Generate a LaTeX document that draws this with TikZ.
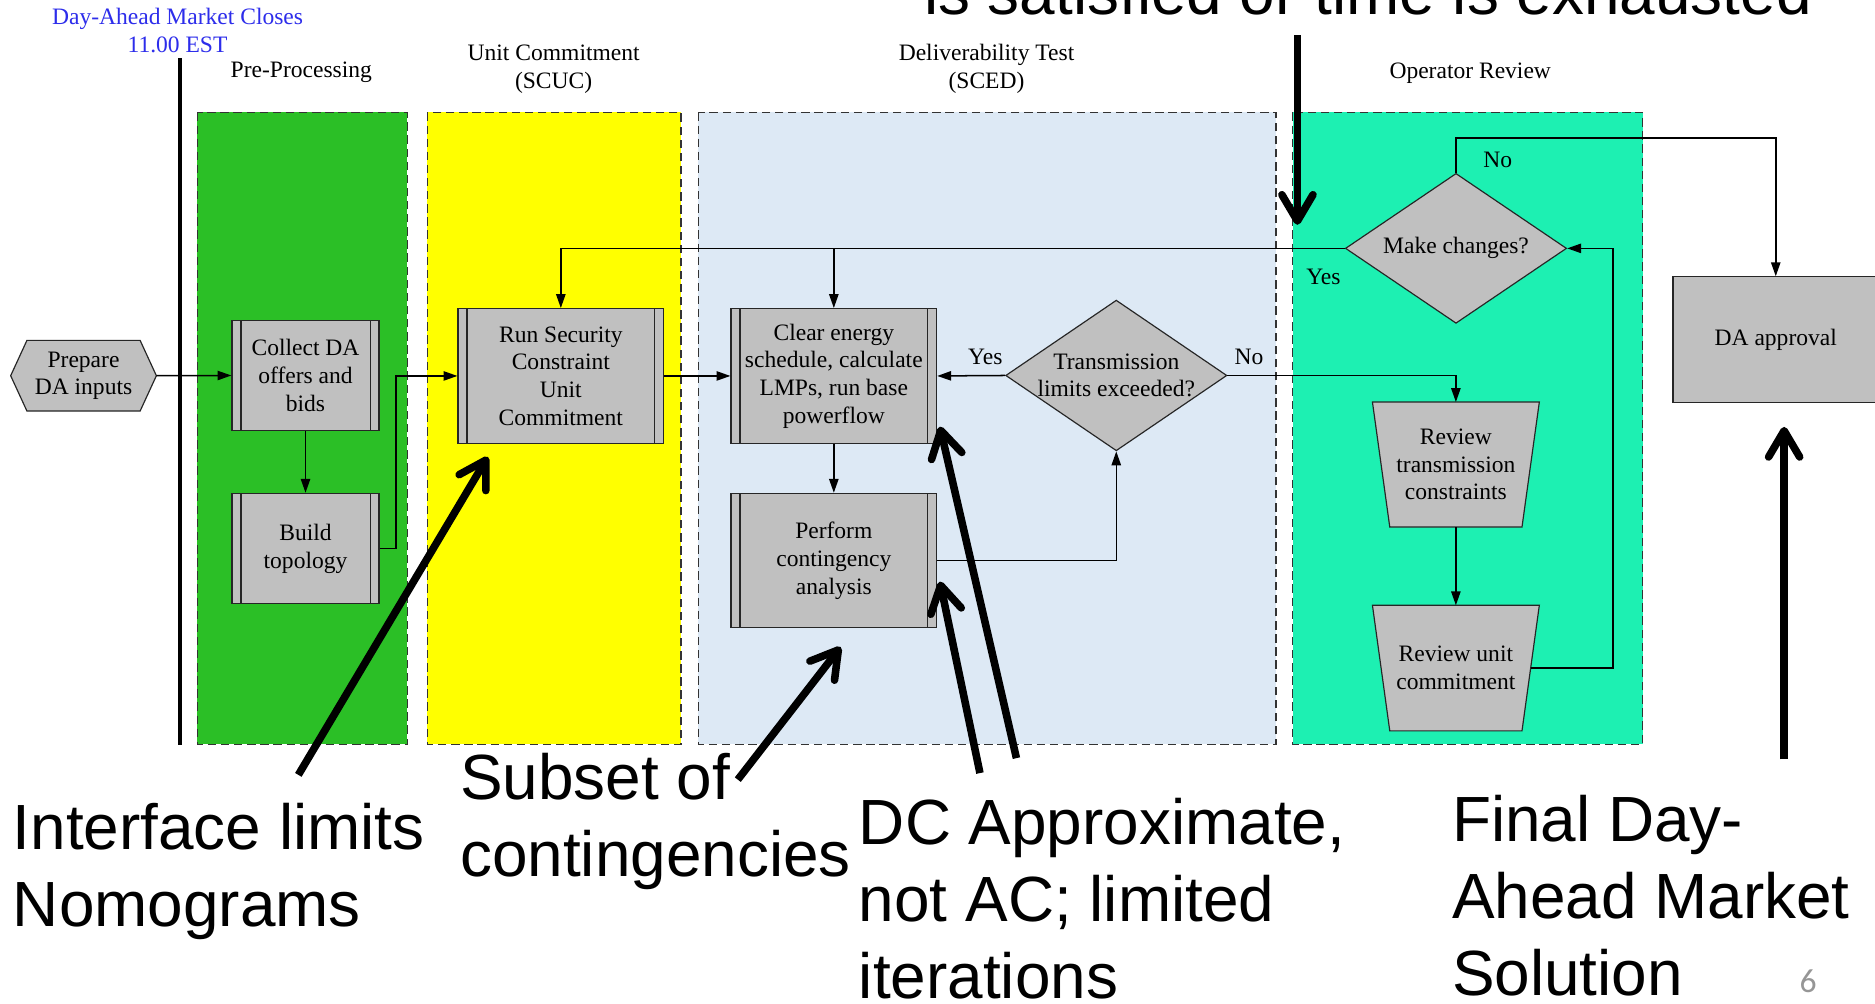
\documentclass[tikz,border=0pt]{standalone}
\usepackage{fontspec}
\setmainfont{Liberation Serif}
\newfontfamily\annotfont{Liberation Sans}
\newfontfamily\numfont{Carlito}
\usetikzlibrary{arrows.meta,shapes.geometric,calc}
\newcommand\pxu{0.25mm}
\definecolor{lanegreen}{RGB}{43,191,38}
\definecolor{laneyellow}{RGB}{255,255,0}
\definecolor{laneblue}{RGB}{221,233,245}
\definecolor{laneteal}{RGB}{29,240,178}
\definecolor{boxgrey}{RGB}{192,192,192}
\definecolor{closeblue}{RGB}{45,45,235}
\definecolor{pagegrey}{RGB}{150,150,150}
\pgfdeclarelayer{lanelayer}
\pgfdeclarelayer{shapelayer}
\pgfsetlayers{lanelayer,shapelayer,main}
\tikzset{
 diag/.style={font=\fontsize{14}{16.5}\selectfont},
 lane/.style={draw=black!80, line width=0.7pt, dash pattern=on 5pt off 2.8pt},
 procbox/.style={diag, draw=black!85, line width=0.7pt, fill=boxgrey, align=center, inner sep=0pt,
   path picture={\draw[line width=0.7pt, black!85]
     ([xshift=7.5*\pxu]path picture bounding box.north west) -- ([xshift=7.5*\pxu]path picture bounding box.south west)
     ([xshift=-7.5*\pxu]path picture bounding box.north east) -- ([xshift=-7.5*\pxu]path picture bounding box.south east);}},
 decision/.style={diamond, draw=black!85, line width=0.7pt, fill=boxgrey, inner sep=0pt, minimum width=185*\pxu, minimum height=126*\pxu},
 plainbox/.style={diag, rectangle, draw=black!85, line width=0.7pt, fill=boxgrey, inner sep=0pt, align=center},
 hidden/.style={diag, align=center, inner sep=0pt},
 shapeline/.style={draw=black!85, line width=0.7pt, fill=boxgrey},
 conn/.style={line width=0.9pt, -{Triangle[length=2.9mm,width=1.95mm]}},
 callout/.style={line width=4.5pt, -{Straight Barb[length=5.5mm,width=6.5mm,round]}},
 bigtext/.style={font=\annotfont\fontsize{38}{45.8}\selectfont, align=left, inner sep=0pt, anchor=base west},
 lbl/.style={diag, inner sep=0pt, anchor=base, align=center},
}
\begin{document}
\begin{tikzpicture}[x=0.25mm, y=-0.25mm]
\useasboundingbox (0,0) rectangle (1568,839);
\clip (0,0) rectangle (1568,839);

% lanes
\begin{pgfonlayer}{lanelayer}
\fill[white] (0,0) rectangle (1568,839);
\draw[lane, fill=lanegreen] (165,94) rectangle (340.5,622.5);
\draw[lane, fill=laneyellow] (357.5,94) rectangle (569.5,622.5);
\draw[lane, fill=laneblue] (584,94) rectangle (1067,622.5);
\draw[lane, fill=laneteal] (1081,94) rectangle (1373.7,622.5);
\end{pgfonlayer}

% titles (base = baseline of last line)
\node[lbl, text=closeblue] (closes) at (148.5,44) {Day-Ahead Market Closes\\11.00 EST};
\node[lbl] (tpre) at (252,64.7) {Pre-Processing};
\node[lbl] (tuc) at (463,74) {Unit Commitment\\(SCUC)};
\node[lbl] (tdt) at (825,74) {Deliverability Test\\(SCED)};
\node[lbl] (tor) at (1229.5,65.5) {Operator Review};

\draw[line width=2.7pt] (150.5,48.8) -- (150.5,623);

% nodes
\node[hidden, minimum width=121.3*\pxu, minimum height=58.5*\pxu] (prep) at (69.85,314.2) {Prepare\\DA inputs};
\node[procbox, minimum width=123*\pxu, minimum height=92*\pxu] (collect) at (255.5,314) {Collect DA\\offers and\\bids};
\node[procbox, minimum width=123*\pxu, minimum height=92.4*\pxu] (build) at (255.5,458.8) {Build\\topology};
\node[procbox, minimum width=172*\pxu, minimum height=112.6*\pxu] (scuc) at (469,314.4) {Run Security\\Constraint\\Unit\\Commitment};
\node[procbox, minimum width=172*\pxu, minimum height=112.6*\pxu] (clear) at (697.3,314.4) {Clear energy\\schedule, calculate\\LMPs, run base\\powerflow};
\node[procbox, minimum width=172*\pxu, minimum height=112.3*\pxu] (perform) at (697.3,468.75) {Perform\\contingency\\analysis};
\node[decision, label={[diag,align=center]center:Transmission\\limits exceeded?}] (trans) at (933.5,314) {};
\node[decision, minimum height=125.4*\pxu, label={[diag]center:Make changes?}] (make) at (1217.6,207.7) {};
\node[hidden, minimum width=124.5*\pxu, minimum height=104*\pxu] (review1) at (1217.5,388.5) {Review\\transmission\\constraints};
\node[hidden, minimum width=124.5*\pxu, minimum height=104.5*\pxu] (review2) at (1217.5,558.7) {Review unit\\commitment};
\node[plainbox, minimum width=172*\pxu, minimum height=105*\pxu] (approve) at (1485,284) {DA approval};

\begin{pgfonlayer}{shapelayer}
\draw[shapeline] (prep.west) -- ([xshift=13.6*\pxu]prep.north west) -- ([xshift=-13.6*\pxu]prep.north east) -- (prep.east) -- ([xshift=-13.6*\pxu]prep.south east) -- ([xshift=13.6*\pxu]prep.south west) -- cycle;
\draw[shapeline] ([xshift=-7.25*\pxu]review1.north west) -- ([xshift=7.25*\pxu]review1.north east) -- ([xshift=-7.25*\pxu]review1.south east) -- ([xshift=7.25*\pxu]review1.south west) -- cycle;
\draw[shapeline] ([xshift=-7.25*\pxu]review2.north west) -- ([xshift=7.25*\pxu]review2.north east) -- ([xshift=-7.25*\pxu]review2.south east) -- ([xshift=7.25*\pxu]review2.south west) -- cycle;
\end{pgfonlayer}

% connectors
\draw[conn] (prep.east) -- (collect.west);
\draw[conn] (collect.south) -- (build.north);
\draw[conn] (build.east) -- ++(13.5,0) |- (scuc.west);
\draw[conn] (scuc.east) -- (clear.west);
\draw[conn] (clear.south) -- (perform.north);
\draw[conn] (perform.east) -| (trans.south);
\draw[conn] (trans.west) -- (clear.east);
\draw[conn] (trans.east) -| (review1.north);
\draw[conn] (review1.south) -- (review2.north);
\draw[conn] (review2.east) -- ++(69,0) |- (make.east);
\draw[conn] (make.west) -| (scuc.north);
\draw[conn] (clear.north |- make.west) -- (clear.north);
\draw[conn] (make.north) -- ++(0,-29.3) -| (approve.north);

\node[lbl] (yes1) at (1106.7,238.3) {Yes};
\node[lbl] (no1) at (1252.6,140.2) {No};
\node[lbl] (yes2) at (824,305.2) {Yes};
\node[lbl] (no2) at (1044.5,305.2) {No};

% annotations (base = baseline of last line)
\node[bigtext] (interface) at (10.5,775) {Interface limits\\Nomograms};
\node[bigtext] (subset) at (384.5,733) {Subset of\\contingencies};
\node[bigtext] (dcapprox) at (718,835) {DC Approximate,\\not AC; limited\\iterations};
\node[bigtext] (finalda) at (1214,832.5) {Final Day-\\Ahead Market\\Solution};
\node[bigtext] (topnote) at (772.5,12.5) {is satisfied or time is exhausted};
\node[font=\numfont\fontsize{20}{24}\selectfont, text=pagegrey, anchor=base, inner sep=0pt] (pagenum) at (1512,830) {6};

\coordinate (c1a) at (249.5,648); \coordinate (c1b) at (408,382);
\coordinate (c2a) at (617,652);   \coordinate (c2b) at (703,541);
\coordinate (c3a) at (850,634);   \coordinate (c3b) at (786,356.8);
\coordinate (c4a) at (819.5,646.5); \coordinate (c4b) at (786,486.4);
\coordinate (c5a) at (1492,635);  \coordinate (c5b) at (1492,357);
\coordinate (c6a) at (1085,29.3); \coordinate (c6b) at (1085,188);
\draw[callout] (c1a) -- (c1b);
\draw[callout] (c2a) -- (c2b);
\draw[callout] (c3a) -- (c3b);
\draw[callout] (c4a) -- (c4b);
\draw[callout] (c5a) -- (c5b);
\draw[callout] (c6a) -- (c6b);
\end{tikzpicture}
\end{document}
